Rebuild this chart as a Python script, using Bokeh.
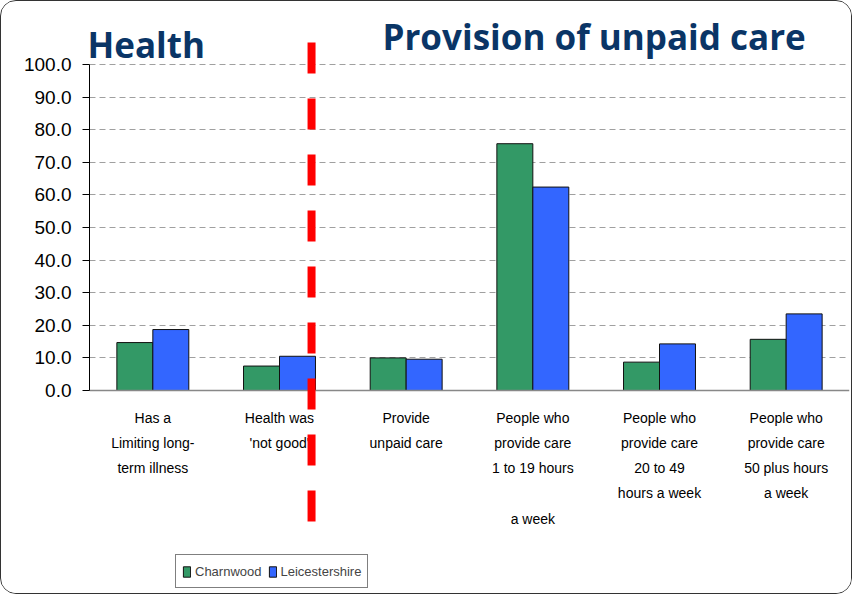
from bokeh.plotting import figure
from bokeh.models import (FactorRange, Range1d, FixedTicker, NumeralTickFormatter,
                          Label, Legend, LegendItem, ColumnDataSource)
from bokeh.transform import dodge
from bokeh.embed import file_html
from bokeh.resources import INLINE

# ---- data ----
categories = [
    "Has a\nLimiting long-\nterm illness",
    "Health was\n'not good'",
    "Provide\nunpaid care",
    "People who\nprovide care\n1 to 19 hours\n\na week",
    "People who\nprovide care\n20 to 49\nhours a week",
    "People who\nprovide care\n50 plus hours\na week",
]
charnwood = [14.7, 7.5, 10.0, 75.7, 8.7, 15.7]
leicestershire = [18.7, 10.5, 9.6, 62.4, 14.3, 23.5]
y_ticks = [0, 10, 20, 30, 40, 50, 60, 70, 80, 90, 100]
series_names = ["Charnwood", "Leicestershire"]
series_colors = ["#339966", "#3366FF"]

# ---- layout constants ----
W, H = 852, 594
frame_top, frame_bottom = 10, 590
px_per_unit = 3.26
y0_canvas = 389
ymin = -(frame_bottom - y0_canvas) / px_per_unit
ymax = 100 + (y0_canvas - 326 - frame_top) / px_per_unit

src = ColumnDataSource(dict(cat=categories, c=charnwood, l=leicestershire))

p = figure(x_range=FactorRange(*categories, range_padding=0),
           y_range=Range1d(ymin, ymax),
           width=W, height=H, output_backend="svg", toolbar_location=None,
           min_border_left=88, min_border_right=4,
           min_border_top=frame_top, min_border_bottom=H - frame_bottom)
p.outline_line_color = None
p.background_fill_color = "white"
p.border_fill_color = "white"
p.styles = {"border": "1px solid #333333", "border-radius": "16px", "overflow": "hidden"}

bw = 0.284
r1 = p.vbar(x=dodge("cat", -bw / 2, range=p.x_range), top="c", width=bw, source=src,
            fill_color=series_colors[0], line_color="#111111", line_width=1)
r2 = p.vbar(x=dodge("cat", bw / 2, range=p.x_range), top="l", width=bw, source=src,
            fill_color=series_colors[1], line_color="#111111", line_width=1)

# y axis
yax = p.yaxis[0]
yax.ticker = FixedTicker(ticks=y_ticks)
yax.formatter = NumeralTickFormatter(format="0.0")
yax.bounds = (0, 100)
yax.axis_line_color = "black"
yax.major_tick_line_color = "black"
yax.major_tick_out = 7
yax.major_tick_in = 0
yax.minor_tick_line_color = None
yax.major_label_standoff = 11
yax.major_label_text_font = "Liberation Sans, Arial, sans-serif"
yax.major_label_text_font_size = "19px"
yax.major_label_text_color = "black"

# x axis at y = 0
xax = p.xaxis[0]
xax.fixed_location = 0
xax.axis_line_color = "#888888"
xax.axis_line_width = 1.5
xax.major_tick_line_color = None
xax.minor_tick_line_color = None
xax.major_label_standoff = 13
xax.major_label_text_font = "Liberation Sans, Arial, sans-serif"
xax.major_label_text_font_size = "14px"
xax.major_label_text_line_height = 1.58
xax.major_label_text_color = "black"

p.xgrid.visible = False
p.ygrid.grid_line_color = "#a0a0a0"
p.ygrid.grid_line_dash = "6 4"
p.ygrid.grid_line_width = 1

# red dashed divider
div_src = ColumnDataSource(dict(cat=[categories[1]], top=[106.75], bottom=[-40.8]))
p.segment(x0=dodge("cat", 0.253, range=p.x_range), y0="top",
          x1=dodge("cat", 0.253, range=p.x_range), y1="bottom", source=div_src,
          line_color="#ff0000", line_width=8, line_dash="31 25", line_cap="butt",
          level="overlay")

# section titles
title_font = "Open Sans, Lato, sans-serif"
p.add_layout(Label(x=-2, y=frame_bottom - 43, x_units="screen", y_units="screen",
                   text="Health", text_font=title_font, text_font_size="35px",
                   text_font_style="bold", text_color="#0a3566",
                   text_baseline="alphabetic"))
p.add_layout(Label(x=293, y=frame_bottom - 35, x_units="screen", y_units="screen",
                   text="Provision of unpaid care", text_font=title_font,
                   text_font_size="35px", text_font_style="bold",
                   text_color="#0a3566", text_baseline="alphabetic"))

legend = Legend(items=[LegendItem(label=series_names[0], renderers=[r1]),
                       LegendItem(label=series_names[1], renderers=[r2])],
                location=(86, 3), orientation="horizontal")
legend.glyph_width = 9
legend.glyph_height = 13
legend.label_standoff = 4
legend.spacing = 6
legend.padding = 6
legend.margin = 0
legend.border_line_color = "black"
legend.border_line_width = 1
legend.label_text_font = "Liberation Sans, Arial, sans-serif"
legend.label_text_font_size = "13px"
legend.label_height = 20
p.add_layout(legend)

open("out.html", "w").write(file_html(p, INLINE))
